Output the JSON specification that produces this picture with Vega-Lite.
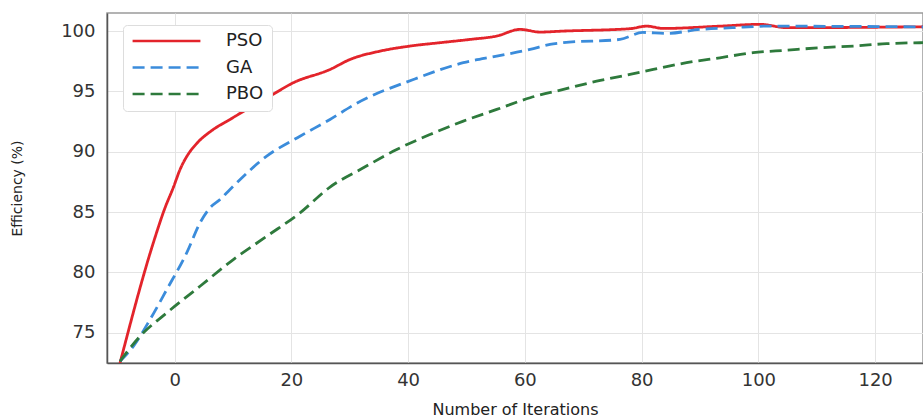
{
  "$schema": "https://vega.github.io/schema/vega-lite/v6.json",
  "autosize": {"type": "none"},
  "padding": {"left": 107, "top": 13, "right": 0, "bottom": 55},
  "width": 816,
  "height": 350,
  "background": "white",
  "config": {
    "view": {"stroke": "#9a9a9a", "strokeWidth": 1.5},
    "font": "DejaVu Sans"
  },
  "data": {
    "values": [
      {"x": -9.35, "y": 72.5, "s": "PSO"},
      {"x": -3.65, "y": 82.45, "s": "PSO"},
      {"x": -1.64, "y": 85.36, "s": "PSO"},
      {"x": -0.22, "y": 87.04, "s": "PSO"},
      {"x": 0.93, "y": 88.53, "s": "PSO"},
      {"x": 2.3, "y": 89.78, "s": "PSO"},
      {"x": 3.79, "y": 90.69, "s": "PSO"},
      {"x": 6.63, "y": 91.85, "s": "PSO"},
      {"x": 9.49, "y": 92.68, "s": "PSO"},
      {"x": 12.35, "y": 93.51, "s": "PSO"},
      {"x": 16.3, "y": 94.6, "s": "PSO"},
      {"x": 20.33, "y": 95.72, "s": "PSO"},
      {"x": 26.62, "y": 96.82, "s": "PSO"},
      {"x": 30.05, "y": 97.65, "s": "PSO"},
      {"x": 35.19, "y": 98.34, "s": "PSO"},
      {"x": 40.32, "y": 98.76, "s": "PSO"},
      {"x": 45.46, "y": 99.04, "s": "PSO"},
      {"x": 50.6, "y": 99.31, "s": "PSO"},
      {"x": 55.18, "y": 99.59, "s": "PSO"},
      {"x": 59.17, "y": 100.14, "s": "PSO"},
      {"x": 62.6, "y": 99.92, "s": "PSO"},
      {"x": 66.5, "y": 100.0, "s": "PSO"},
      {"x": 78.0, "y": 100.2, "s": "PSO"},
      {"x": 80.9, "y": 100.41, "s": "PSO"},
      {"x": 83.7, "y": 100.22, "s": "PSO"},
      {"x": 93.4, "y": 100.41, "s": "PSO"},
      {"x": 100.3, "y": 100.56, "s": "PSO"},
      {"x": 104.9, "y": 100.28, "s": "PSO"},
      {"x": 128.2, "y": 100.36, "s": "PSO"},
      {"x": -9.35, "y": 72.64, "s": "GA"},
      {"x": -7.07, "y": 73.88, "s": "GA"},
      {"x": -4.22, "y": 76.09, "s": "GA"},
      {"x": -1.35, "y": 78.58, "s": "GA"},
      {"x": 2.07, "y": 81.62, "s": "GA"},
      {"x": 4.35, "y": 84.11, "s": "GA"},
      {"x": 6.06, "y": 85.36, "s": "GA"},
      {"x": 7.78, "y": 86.05, "s": "GA"},
      {"x": 9.49, "y": 86.88, "s": "GA"},
      {"x": 15.78, "y": 89.64, "s": "GA"},
      {"x": 21.48, "y": 91.29, "s": "GA"},
      {"x": 26.62, "y": 92.68, "s": "GA"},
      {"x": 31.1, "y": 94.0, "s": "GA"},
      {"x": 40.9, "y": 95.99, "s": "GA"},
      {"x": 49.46, "y": 97.38, "s": "GA"},
      {"x": 55.18, "y": 97.93, "s": "GA"},
      {"x": 60.9, "y": 98.48, "s": "GA"},
      {"x": 64.3, "y": 98.9, "s": "GA"},
      {"x": 66.6, "y": 99.04, "s": "GA"},
      {"x": 76.3, "y": 99.31, "s": "GA"},
      {"x": 80.2, "y": 99.89, "s": "GA"},
      {"x": 84.3, "y": 99.81, "s": "GA"},
      {"x": 90.0, "y": 100.14, "s": "GA"},
      {"x": 95.6, "y": 100.28, "s": "GA"},
      {"x": 101.5, "y": 100.41, "s": "GA"},
      {"x": 128.2, "y": 100.35, "s": "GA"},
      {"x": -9.35, "y": 72.64, "s": "PBO"},
      {"x": -5.93, "y": 74.71, "s": "PBO"},
      {"x": -1.35, "y": 76.65, "s": "PBO"},
      {"x": 4.35, "y": 78.86, "s": "PBO"},
      {"x": 10.06, "y": 81.07, "s": "PBO"},
      {"x": 15.78, "y": 83.0, "s": "PBO"},
      {"x": 21.48, "y": 84.94, "s": "PBO"},
      {"x": 26.62, "y": 87.08, "s": "PBO"},
      {"x": 32.33, "y": 88.67, "s": "PBO"},
      {"x": 38.05, "y": 90.19, "s": "PBO"},
      {"x": 43.75, "y": 91.43, "s": "PBO"},
      {"x": 49.46, "y": 92.54, "s": "PBO"},
      {"x": 55.18, "y": 93.51, "s": "PBO"},
      {"x": 60.9, "y": 94.48, "s": "PBO"},
      {"x": 66.6, "y": 95.17, "s": "PBO"},
      {"x": 72.3, "y": 95.85, "s": "PBO"},
      {"x": 78.0, "y": 96.41, "s": "PBO"},
      {"x": 82.0, "y": 96.82, "s": "PBO"},
      {"x": 87.7, "y": 97.38, "s": "PBO"},
      {"x": 93.4, "y": 97.79, "s": "PBO"},
      {"x": 99.1, "y": 98.21, "s": "PBO"},
      {"x": 104.9, "y": 98.42, "s": "PBO"},
      {"x": 110.6, "y": 98.62, "s": "PBO"},
      {"x": 116.3, "y": 98.76, "s": "PBO"},
      {"x": 122.0, "y": 98.96, "s": "PBO"},
      {"x": 128.2, "y": 99.04, "s": "PBO"}
    ]
  },
  "mark": {"type": "line", "strokeWidth": 2.8, "clip": true, "interpolate": "monotone"},
  "encoding": {
    "x": {
      "field": "x", "type": "quantitative",
      "scale": {"domain": [-11.58, 128.2], "nice": false, "zero": false},
      "axis": {
        "values": [0, 20, 40, 60, 80, 100, 120],
        "title": "Number of Iterations",
        "titleFontSize": 16, "titleFontWeight": "normal", "titleColor": "#222",
        "titlePadding": 12,
        "labelFontSize": 18, "labelColor": "#333", "labelPadding": 8,
        "ticks": false,
        "grid": true, "gridColor": "#e4e4e4", "gridWidth": 1,
        "domainColor": "#555", "domainWidth": 1.5
      }
    },
    "y": {
      "field": "y", "type": "quantitative",
      "scale": {"domain": [72.5, 101.5], "nice": false, "zero": false},
      "axis": {
        "values": [75, 80, 85, 90, 95, 100],
        "title": "Efficiency (%)",
        "titleFontSize": 14, "titleFontWeight": "normal", "titleColor": "#222",
        "titlePadding": 36,
        "labelFontSize": 18, "labelColor": "#333", "labelPadding": 12,
        "ticks": false,
        "grid": true, "gridColor": "#e4e4e4", "gridWidth": 1,
        "domainColor": "#555", "domainWidth": 1.5
      }
    },
    "color": {
      "field": "s", "type": "nominal",
      "scale": {"domain": ["PSO", "GA", "PBO"], "range": ["#e3242b", "#3b8cdb", "#2e7a3c"]},
      "legend": {
        "title": null,
        "orient": "none",
        "legendX": 16, "legendY": 12,
        "symbolType": "stroke",
        "symbolSize": 4600,
        "symbolStrokeWidth": 2.5,
        "labelFontSize": 18,
        "labelColor": "#222",
        "labelOffset": 24,
        "clipHeight": 16,
        "rowPadding": 8.5,
        "padding": 8,
        "fillColor": "white",
        "strokeColor": "#dddddd",
        "cornerRadius": 4
      }
    },
    "strokeDash": {
      "field": "s", "type": "nominal",
      "scale": {"domain": ["PSO", "GA", "PBO"], "range": [[1, 0], [12, 6], [12, 6]]},
      "legend": {
        "title": null,
        "orient": "none",
        "legendX": 16, "legendY": 12,
        "symbolType": "stroke",
        "symbolSize": 4600,
        "symbolStrokeWidth": 2.5,
        "labelFontSize": 18,
        "labelColor": "#222",
        "labelOffset": 24,
        "clipHeight": 16,
        "rowPadding": 8.5,
        "padding": 8,
        "fillColor": "white",
        "strokeColor": "#dddddd",
        "cornerRadius": 4
      }
    }
  }
}
